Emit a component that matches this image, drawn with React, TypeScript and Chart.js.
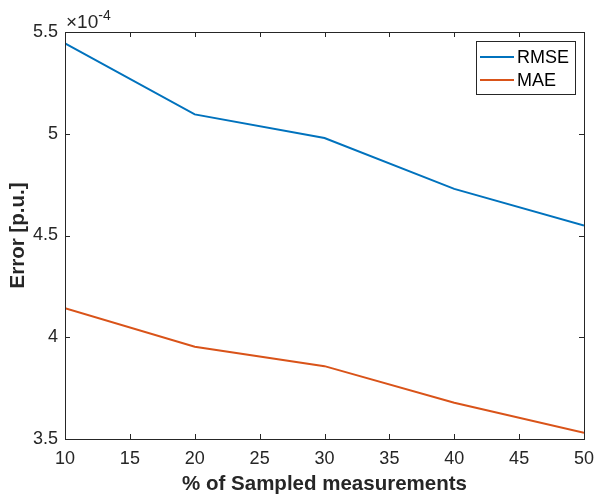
import React, { useEffect, useRef } from "react";
import { Chart, registerables } from "chart.js";

Chart.register(...registerables);

// Data (values in units of 1e-4 p.u.)
const sampledPercent = [10, 20, 30, 40, 50];
const rmseValues = [5.444, 5.095, 4.979, 4.729, 4.549];
const maeValues = [4.143, 3.953, 3.858, 3.678, 3.53];
const seriesLabels = ["RMSE", "MAE"];
const seriesColors = ["#0072BD", "#D95319"];
const xTitle = "% of Sampled measurements";
const yTitle = "Error [p.u.]";
const exponentLabel = "-4";

const FONT = "'Liberation Sans', Arial, Helvetica, sans-serif";
const AXIS_COLOR = "#262626";

const matlabPlugin = {
  id: "matlabDecor",
  afterDraw(chart: any) {
    const { ctx, chartArea } = chart;
    const { left, right, top, bottom } = chartArea;
    const xs = chart.scales.x;
    const ys = chart.scales.y;
    ctx.save();
    ctx.strokeStyle = AXIS_COLOR;
    ctx.lineWidth = 1;
    // box
    ctx.strokeRect(Math.round(left) + 0.5, Math.round(top) + 0.5, Math.round(right - left), Math.round(bottom - top));
    const tl = 5;
    ctx.beginPath();
    xs.ticks.forEach((t: any) => {
      const px = Math.round(xs.getPixelForValue(t.value)) + 0.5;
      ctx.moveTo(px, bottom);
      ctx.lineTo(px, bottom - tl);
      ctx.moveTo(px, top);
      ctx.lineTo(px, top + tl);
    });
    ys.ticks.forEach((t: any) => {
      const py = Math.round(ys.getPixelForValue(t.value)) + 0.5;
      ctx.moveTo(left, py);
      ctx.lineTo(left + tl, py);
      ctx.moveTo(right, py);
      ctx.lineTo(right - tl, py);
    });
    ctx.stroke();

    // exponent label
    ctx.fillStyle = AXIS_COLOR;
    ctx.textBaseline = "alphabetic";
    ctx.textAlign = "left";
    ctx.font = `19px ${FONT}`;
    const base = "\u00d710";
    ctx.fillText(base, left + 1, top - 4);
    const w = ctx.measureText(base).width;
    ctx.font = `14px ${FONT}`;
    ctx.fillText(exponentLabel, left + 1 + w, top - 12);

    // legend
    const lx = 476, ly = 41, lw = 99, lh = 53;
    ctx.fillStyle = "#ffffff";
    ctx.fillRect(lx, ly, lw, lh);
    ctx.strokeStyle = AXIS_COLOR;
    ctx.lineWidth = 1;
    ctx.strokeRect(lx + 0.5, ly + 0.5, lw, lh);
    ctx.font = `18px ${FONT}`;
    ctx.textBaseline = "middle";
    chart.data.datasets.forEach((ds: any, i: number) => {
      const yy = ly + 16 + i * 23;
      ctx.strokeStyle = ds.borderColor;
      ctx.lineWidth = 2;
      ctx.beginPath();
      ctx.moveTo(480, yy);
      ctx.lineTo(514, yy);
      ctx.stroke();
      ctx.fillStyle = "#000000";
      ctx.fillText(ds.label, 517, yy + 1);
    });
    ctx.restore();
  },
};

export default function App() {
  const ref = useRef<HTMLCanvasElement>(null);
  useEffect(() => {
    document.body.style.margin = "0";
    const seriesValues = [rmseValues, maeValues];
    const chart = new Chart(ref.current as HTMLCanvasElement, {
      type: "line",
      data: {
        datasets: seriesValues.map((vals, i) => ({
          label: seriesLabels[i],
          data: vals.map((v, j) => ({ x: sampledPercent[j], y: v })),
          borderColor: seriesColors[i],
          backgroundColor: seriesColors[i],
          borderWidth: 2,
          pointRadius: 0,
          tension: 0,
          fill: false,
        })),
      },
      options: {
        animation: false,
        responsive: false,
        devicePixelRatio: 1,
        layout: { padding: { top: 32, right: 11, left: 0, bottom: 0 } },
        plugins: { legend: { display: false }, tooltip: { enabled: false } },
        scales: {
          x: {
            type: "linear",
            min: 10,
            max: 50,
            grid: { display: false, drawTicks: false },
            border: { display: false },
            ticks: {
              stepSize: 5,
              padding: 9,
              color: AXIS_COLOR,
              font: { family: FONT, size: 18 },
              maxRotation: 0,
            },
            title: {
              display: true,
              text: xTitle,
              color: AXIS_COLOR,
              font: { family: FONT, size: 20.5, weight: "bold" },
              padding: { top: 0, bottom: 0 },
            },
            afterFit(scale: any) {
              scale.height = 58;
              scale.paddingLeft = 0;
              scale.paddingRight = 0;
            },
          },
          y: {
            type: "linear",
            min: 3.5,
            max: 5.5,
            grid: { display: false, drawTicks: false },
            border: { display: false },
            ticks: {
              stepSize: 0.5,
              padding: 7,
              color: AXIS_COLOR,
              font: { family: FONT, size: 18 },
              callback: (v: any) => String(Math.round(Number(v) * 10) / 10),
            },
            title: {
              display: true,
              text: yTitle,
              color: AXIS_COLOR,
              font: { family: FONT, size: 20.5, weight: "bold" },
              padding: { top: 6, bottom: 0 },
            },
            afterFit(scale: any) {
              scale.width = 65;
              scale.paddingTop = 0;
              scale.paddingBottom = 0;
            },
          },
        },
      } as any,
      plugins: [matlabPlugin],
    });
    return () => chart.destroy();
  }, []);
  return (
    <div style={{ position: "fixed", left: 0, top: 0, width: 595, height: 497, background: "#fff" }}>
      <canvas ref={ref} width={595} height={497} style={{ display: "block" }} />
    </div>
  );
}
